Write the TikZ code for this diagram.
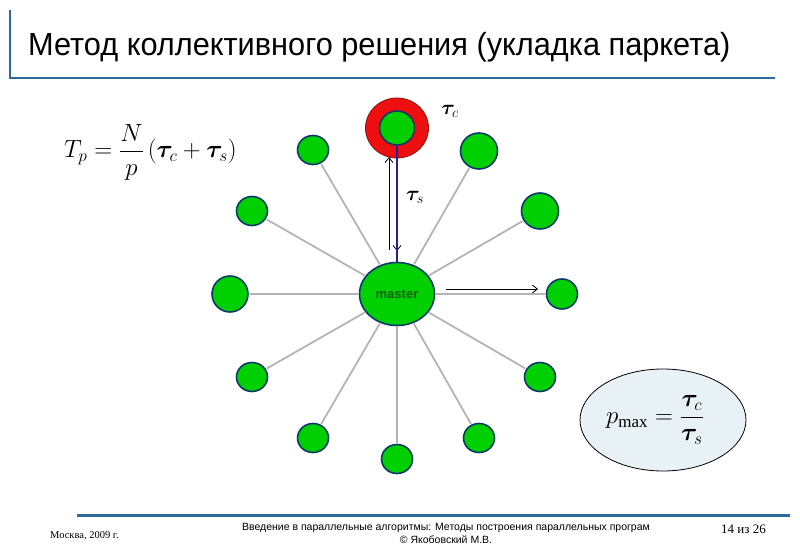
\documentclass[tikz,border=0pt]{standalone}
\usepackage{amsmath,bm}
\usepackage{fontspec}
\setmainfont{Liberation Sans}
\newfontfamily\narrowfont[FakeStretch=0.96]{Liberation Sans}
\newfontfamily\footfont{Liberation Sans}
\newfontfamily\serifface{Liberation Serif}
\usetikzlibrary{shapes.geometric,arrows.meta}
\definecolor{slideblue}{HTML}{2E6A9A}
\definecolor{nodegreen}{HTML}{00D000}
\definecolor{navy}{HTML}{0A3A6A}
\definecolor{spokegray}{HTML}{B4B4B4}
\definecolor{ringred}{HTML}{EE1010}
\definecolor{ringedge}{HTML}{8A1010}
\definecolor{ellfill}{HTML}{E8F1F5}
\definecolor{mastertext}{HTML}{156015}
\definecolor{linkblue}{HTML}{2020A0}
\begin{document}
\begin{tikzpicture}[x=1pt,y=-1pt,
  sat/.style={ellipse, draw=navy, line width=1.6pt, fill=nodegreen, inner sep=0pt},
  spoke/.style={draw=spokegray, line width=1.8pt},
  thinarrow/.style={draw=black, line width=0.8pt, -{Straight Barb[length=5pt,width=8pt]}},
  mathlbl/.style={inner sep=0pt, font=\fontsize{22}{26}\selectfont},
  foot/.style={inner sep=0pt, font=\footfont\fontsize{10.5}{12}\selectfont}
]
\useasboundingbox (0,0) rectangle (800,553);
% frame lines
\draw[slideblue, line width=2.5pt] (10,10) -- (10,78) -- (775,78);
\node[anchor=base west, inner sep=0pt, font=\narrowfont\fontsize{32}{36}\selectfont] (title) at (28,56) {Метод коллективного решения (укладка паркета)};
\draw[slideblue, line width=3pt] (77,515) -- (790,515);
% footer
\node[foot, anchor=base west, font=\serifface\fontsize{10.5}{12}\selectfont] (ft1) at (50,538) {Москва, 2009 г.};
\node[foot, anchor=base] (ft2) at (446,530) {Введение в параллельные алгоритмы: Методы построения параллельных програм};
\node[foot, anchor=base] (ft3) at (446,543) {© Якобовский М.В.};
\node[anchor=base east, inner sep=0pt, font=\serifface\fontsize{13}{15}\selectfont] (ft4) at (766,533) {14 из 26};
% formula
\node[anchor=west, inner sep=0pt, font=\fontsize{25}{30}\selectfont] (tp) at (64,152) {$T_p=\dfrac{N}{p}\left(\bm{\tau}_c+\bm{\tau}_s\right)$};
% master and satellites
\node[sat, minimum width=75pt, minimum height=63pt] (m) at (397,294) {\textbf{\fontsize{13}{15}\selectfont\color{mastertext}master}};
\node[ellipse, draw=ringedge, line width=0.8pt, fill=ringred, minimum width=63pt, minimum height=60pt, inner sep=0pt] (ring) at (397,128) {};
\node[sat, minimum width=35pt, minimum height=34pt] (s1) at (397,128) {};
\node[sat, minimum width=31pt, minimum height=29pt] (s2) at (313,150) {};
\node[sat, minimum width=37pt, minimum height=36pt] (s3) at (479,151) {};
\node[sat, minimum width=31pt, minimum height=29pt] (s4) at (252,211) {};
\node[sat, minimum width=37pt, minimum height=36pt] (s5) at (540,211) {};
\node[sat, minimum width=36pt, minimum height=36pt] (s6) at (230,294) {};
\node[sat, minimum width=31pt, minimum height=30pt] (s7) at (562,294) {};
\node[sat, minimum width=31pt, minimum height=29pt] (s8) at (252,377) {};
\node[sat, minimum width=31pt, minimum height=29pt] (s9) at (540,377) {};
\node[sat, minimum width=31pt, minimum height=29pt] (s10) at (313,438) {};
\node[sat, minimum width=31pt, minimum height=29pt] (s11) at (479,438) {};
\node[sat, minimum width=31pt, minimum height=29pt] (s12) at (397,459) {};
\foreach \s in {s2,s3,s4,s5,s6,s7,s8,s9,s10,s11,s12}
  \draw[spoke, shorten <=0.8pt, shorten >=0.8pt] (m) -- (\s);
% arrows along top link
\coordinate (dnstart) at (397,160);
\coordinate (dnend) at (397,251);
\draw[thinarrow] (dnstart) -- (dnend);
\draw[linkblue, line width=2pt] (s1.south) -- (m.north);
\coordinate (upstart) at (389,250);
\coordinate (upend) at (389,157);
\draw[thinarrow] (upstart) -- (upend);
\coordinate (rtstart) at (446,289);
\coordinate (rtend) at (538,289);
\draw[thinarrow] (rtstart) -- (rtend);
% labels
\node[mathlbl, anchor=center] (tauc) at (450,111) {$\bm{\tau}_c$};
\node[mathlbl, anchor=center] (taus) at (415,197) {$\bm{\tau}_s$};
% pmax ellipse
\node[ellipse, draw=black, line width=0.8pt, fill=ellfill, minimum width=166pt, minimum height=102pt, inner sep=0pt] (pm) at (663,420) {};
\node[inner sep=0pt, font=\fontsize{26}{30}\selectfont] (pmf) at (655,420) {$p_{\mbox{\serifface\fontsize{17}{20}\selectfont max}}=\dfrac{\bm{\tau}_c}{\bm{\tau}_s}$};
\end{tikzpicture}
\end{document}
